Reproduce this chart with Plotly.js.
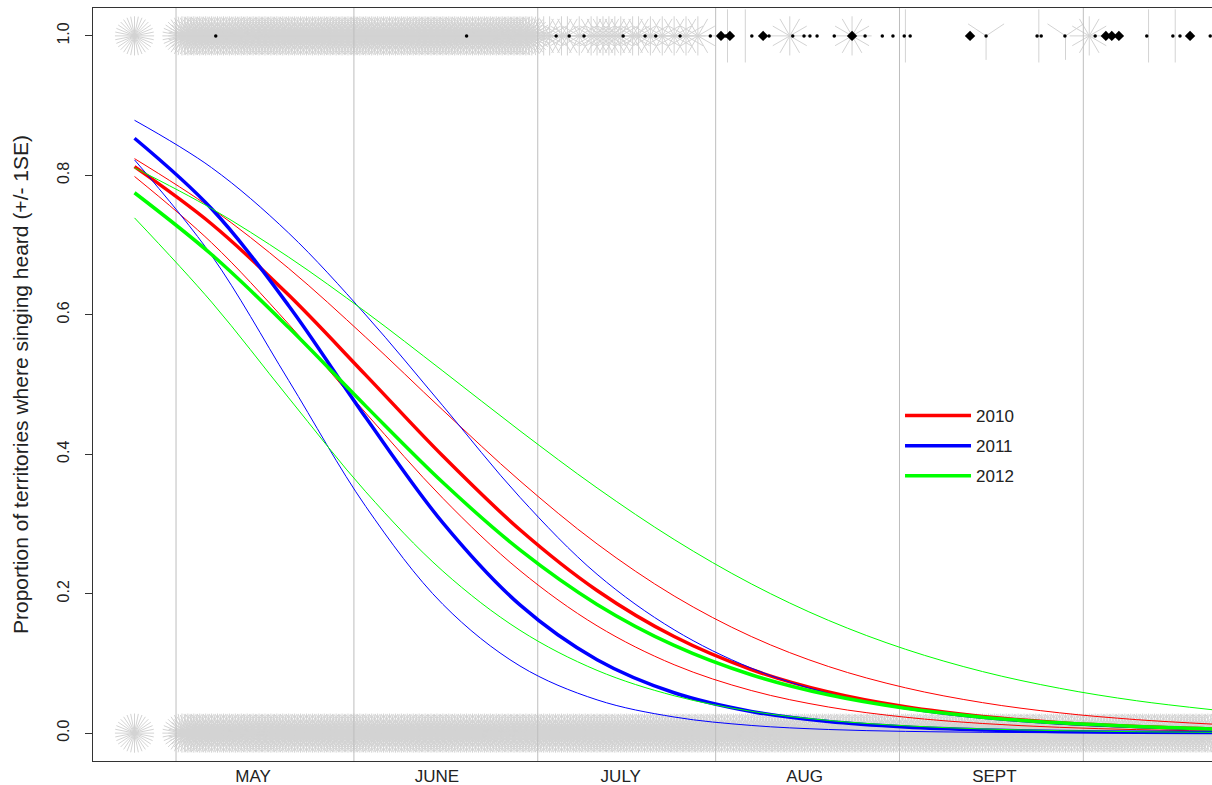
<!DOCTYPE html>
<html><head><meta charset="utf-8">
<script src="https://cdn.plot.ly/plotly-3.0.1.min.js"></script>
<style>html,body{margin:0;padding:0;background:#fff;overflow:hidden}</style>
</head><body><div id="chart" style="width:1212px;height:785px"></div>
<script>
// ---------- data ----------
const seriesNames  = ['2010', '2011', '2012'];
const seriesColors = ['#FF0000', '#0000FF', '#00FF00'];

// days after 1 May (x axis of the fitted curves)
const fitDays   = [-7, 6, 19, 32, 45, 58, 71, 84, 97, 110, 123, 136, 149, 162, 175];
const fit2010   = [0.8124, 0.7302, 0.6283, 0.5135, 0.3974, 0.2917, 0.2046, 0.1385, 0.0912, 0.0590, 0.0377, 0.0239, 0.0150, 0.0095, 0.0059];
const upper2010 = [0.8240, 0.7526, 0.6665, 0.5677, 0.4632, 0.3618, 0.2714, 0.1967, 0.1386, 0.0956, 0.0650, 0.0437, 0.0291, 0.0193, 0.0128];
const lower2010 = [0.7984, 0.7033, 0.5865, 0.4591, 0.3368, 0.2331, 0.1539, 0.0981, 0.0611, 0.0375, 0.0228, 0.0138, 0.0083, 0.0050, 0.0030];
const fit2011   = [0.8532, 0.7521, 0.6130, 0.4526, 0.3015, 0.1839, 0.1053, 0.0579, 0.0311, 0.0165, 0.0087, 0.0045, 0.0024, 0.0012, 0.0007];
const upper2011 = [0.8790, 0.8110, 0.7172, 0.5997, 0.4694, 0.3382, 0.2278, 0.1482, 0.0932, 0.0570, 0.0345, 0.0210, 0.0127, 0.0077, 0.0046];
const lower2011 = [0.8222, 0.6850, 0.5057, 0.3250, 0.1847, 0.0963, 0.0477, 0.0231, 0.0110, 0.0052, 0.0025, 0.0012, 0.0005, 0.0003, 0.0001];
const fit2012   = [0.7750, 0.6864, 0.5817, 0.4690, 0.3594, 0.2628, 0.1846, 0.1258, 0.0837, 0.0549, 0.0356, 0.0229, 0.0147, 0.0094, 0.0060];
const upper2012 = [0.8108, 0.7523, 0.6827, 0.6040, 0.5194, 0.4336, 0.3517, 0.2777, 0.2141, 0.1618, 0.1203, 0.0883, 0.0643, 0.0464, 0.0333];
const lower2012 = [0.7390, 0.6182, 0.4808, 0.3461, 0.2323, 0.1475, 0.0900, 0.0536, 0.0313, 0.0182, 0.0105, 0.0060, 0.0035, 0.0020, 0.0011];

// month boundaries (vertical grey lines) and month labels
const monthStartDays = [0, 30, 61, 91, 122, 153];
const monthLabels    = ['MAY', 'JUNE', 'JULY', 'AUG', 'SEPT'];
const monthLabelDays = [13, 44, 75, 106, 138];

const yTickVals   = [0, 0.2, 0.4, 0.6, 0.8, 1.0];
const yTickLabels = ['0.0', '0.2', '0.4', '0.6', '0.8', '1.0'];
const yTitle = 'Proportion of territories where singing heard (+/- 1SE)';

// raw observations drawn as a sunflower plot (1 = singing heard, 0 = not heard)
const heardManyDays = [-7, 1, 2, 3, 4, 5, 6, 7, 8, 9, 10, 11, 12, 13, 14, 15, 16, 17, 18, 19, 20,
  21, 22, 23, 24, 25, 26, 27, 28, 29, 30, 31, 32, 33, 34, 35, 36, 37, 38, 39, 40,
  41, 42, 43, 44, 45, 46, 47, 48, 49, 50, 51, 52, 53, 54, 55, 56, 57, 58, 59, 60];
const heardFewDays  = [62, 63, 65, 66, 68, 70, 71, 72, 73, 74, 75, 77, 78, 80, 82, 84, 86, 88, 103.5, 114, 154];
const heardPairDays = [93, 96, 123, 145.5, 164, 168.5];
const heardTripleDays = [136.6, 150];
const heardSingleDays = [6.7, 49, 64.1, 66.3, 68.8, 75.4, 79.1, 80.9, 85.0, 90.1, 92.7, 97.1, 100.0,
  104.0, 105.9, 106.9, 108.1, 111.0, 114.0, 116.2, 119.1, 120.9, 122.8, 123.8, 136.6, 145.2, 145.9,
  149.9, 155.0, 163.7, 168.1, 169.3, 174.4];
const heardBigDotDays = [91.9, 93.4, 99.0, 114.0, 133.9, 156.8, 157.8, 159.0, 171.0];
const notHeardDays = [-7, 1, 2, 3, 4, 5, 6, 7, 8, 9, 10, 11, 12, 13, 14, 15, 16, 17, 18, 19, 20,
  21, 22, 23, 24, 25, 26, 27, 28, 29, 30, 31, 32, 33, 34, 35, 36, 37, 38, 39, 40,
  41, 42, 43, 44, 45, 46, 47, 48, 49, 50, 51, 52, 53, 54, 55, 56, 57, 58, 59, 60,
  61, 62, 63, 64, 65, 66, 67, 68, 69, 70, 71, 72, 73, 74, 75, 76, 77, 78, 79, 80,
  81, 82, 83, 84, 85, 86, 87, 88, 89, 90, 91, 92, 93, 94, 95, 96, 97, 98, 99, 100,
  101, 102, 103, 104, 105, 106, 107, 108, 109, 110, 111, 112, 113, 114, 115, 116, 117, 118, 119, 120,
  121, 122, 123, 124, 125, 126, 127, 128, 129, 130, 131, 132, 133, 134, 135, 136, 137, 138, 139, 140,
  141, 142, 143, 144, 145, 146, 147, 148, 149, 150, 151, 152, 153, 154, 155, 156, 157, 158, 159, 160,
  161, 162, 163, 164, 165, 166, 167, 168, 169, 170, 171, 172, 173, 174, 175];

// ---------- drawing ----------
const PETAL = '#d3d3d3';
const FONT = 'Liberation Sans, Arial, sans-serif';
const Y_RANGE = [-0.04, 1.04];

function flower(days, yv, symbol, angles, size) {
  const x = [], y = [], a = [];
  days.forEach(d => angles.forEach(t => { x.push(d); y.push(yv); a.push(t); }));
  return {type: 'scatter', mode: 'markers', x, y, hoverinfo: 'skip', showlegend: false,
    marker: {symbol, size, angle: a, color: PETAL, line: {color: PETAL, width: 1}}};
}
const manyRot = [0, 11.25, 22.5, 33.75, 45, 56.25, 67.5, 78.75];
const traces = [];
traces.push(flower(notHeardDays, 0, 'cross-thin-open', manyRot, 28));
traces.push(flower(heardManyDays, 1, 'cross-thin-open', manyRot, 28));
traces.push(flower(heardFewDays, 1, 'cross-thin-open', [0, 30, 60], 28));
traces.push(flower(heardPairDays, 1, 'line-ns-open', [0], 38));
traces.push(flower(heardTripleDays, 1, 'y-down-open', [0], 30));
traces.push({type: 'scatter', mode: 'markers', x: heardSingleDays, y: heardSingleDays.map(() => 1),
  hoverinfo: 'skip', showlegend: false, marker: {symbol: 'circle', size: 3.5, color: '#000'}});
traces.push({type: 'scatter', mode: 'markers', x: heardBigDotDays, y: heardBigDotDays.map(() => 1),
  hoverinfo: 'skip', showlegend: false, marker: {symbol: 'diamond', size: 8, color: '#000'}});

// month grid lines
const gx = [], gy = [];
monthStartDays.forEach(d => { gx.push(d, d, null); gy.push(Y_RANGE[0], Y_RANGE[1], null); });
traces.push({type: 'scatter', mode: 'lines', x: gx, y: gy, hoverinfo: 'skip', showlegend: false,
  line: {color: '#bebebe', width: 1}});

const fits = [fit2010, fit2011, fit2012];
const uppers = [upper2010, upper2011, upper2012];
const lowers = [lower2010, lower2011, lower2012];
seriesNames.forEach((name, i) => {
  const c = seriesColors[i];
  traces.push({type: 'scatter', mode: 'lines', x: fitDays, y: uppers[i], name: name + ' +1SE',
    legendgroup: name, showlegend: false, line: {color: c, width: 1, shape: 'spline', smoothing: 1}});
  traces.push({type: 'scatter', mode: 'lines', x: fitDays, y: lowers[i], name: name + ' -1SE',
    legendgroup: name, showlegend: false, line: {color: c, width: 1, shape: 'spline', smoothing: 1}});
  traces.push({type: 'scatter', mode: 'lines', x: fitDays, y: fits[i], name: name,
    legendgroup: name, showlegend: true, line: {color: c, width: 3.5, shape: 'spline', smoothing: 1}});
});

const layout = {
  width: 1212, height: 785,
  margin: {l: 93, r: 0, t: 8, b: 24, pad: 0},
  paper_bgcolor: '#ffffff', plot_bgcolor: '#ffffff',
  font: {family: FONT, size: 17, color: '#222'},
  showlegend: true,
  xaxis: {range: [-14, 174.7], tickmode: 'array', tickvals: monthLabelDays, ticktext: monthLabels,
    ticks: '', showgrid: false, zeroline: false, showline: true, mirror: true,
    linecolor: '#333', linewidth: 1, tickfont: {family: FONT, size: 17, color: '#222'}, fixedrange: true},
  yaxis: {range: Y_RANGE, tickmode: 'array', tickvals: yTickVals, ticktext: yTickLabels, tickangle: -90,
    ticks: 'outside', ticklen: 7, tickcolor: '#333', tickwidth: 1, showline: true, linecolor: '#333',
    linewidth: 1, showgrid: false, zeroline: false, ticklabelstandoff: 10,
    tickfont: {family: FONT, size: 16, color: '#222'},
    title: {text: yTitle, font: {family: FONT, size: 21, color: '#222'}, standoff: 20}, fixedrange: true},
  legend: {x: 0.7212, y: 0.482, xanchor: 'left', yanchor: 'top', bgcolor: 'rgba(0,0,0,0)',
    borderwidth: 0, font: {family: FONT, size: 17, color: '#222'}, itemwidth: 66,
    tracegroupgap: 5, traceorder: 'grouped'}
};

Plotly.newPlot('chart', traces, layout, {staticPlot: true, displayModeBar: false});
</script></body></html>
